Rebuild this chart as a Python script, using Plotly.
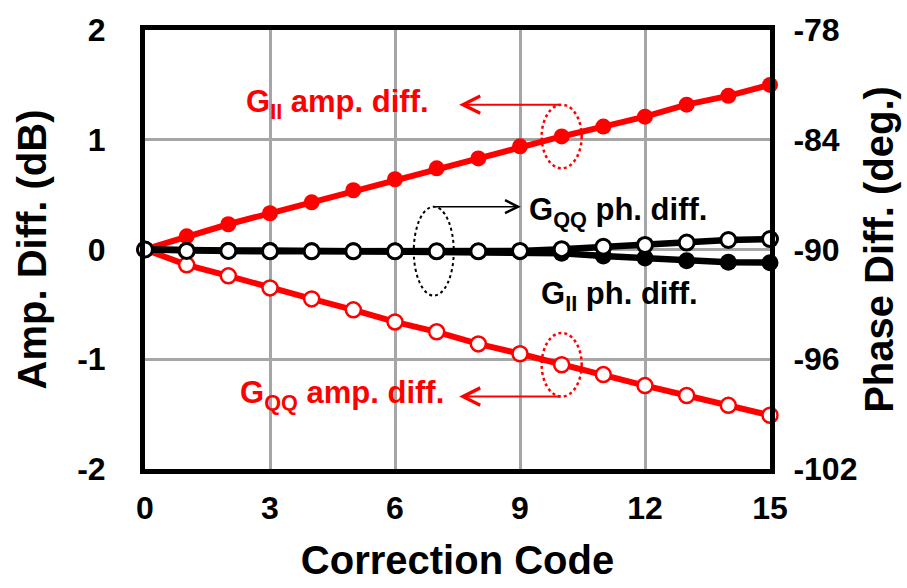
import plotly.graph_objects as go

codes = list(range(16))
gii_amp = [0, 0.12, 0.23, 0.33, 0.43, 0.54, 0.64, 0.74, 0.83, 0.94, 1.03, 1.12, 1.21, 1.32, 1.40, 1.50]
gqq_amp = [0, -0.14, -0.24, -0.35, -0.45, -0.55, -0.66, -0.75, -0.86, -0.95, -1.05, -1.14, -1.24, -1.33, -1.42, -1.51]
gii_ph = [-90.0, -90.05, -90.05, -90.05, -90.07, -90.07, -90.08, -90.1, -90.1, -90.12, -90.2, -90.36, -90.46, -90.62, -90.7, -90.72]
gqq_ph = [-90.0, -90.08, -90.08, -90.1, -90.1, -90.1, -90.1, -90.1, -90.1, -90.08, -89.98, -89.85, -89.75, -89.62, -89.48, -89.43]

x_ticks = [0, 3, 6, 9, 12, 15]
y_ticks = [-2, -1, 0, 1, 2]
y_labels = ["-2", "-1", "0", "1", "2"]
y2_ticks = [-102, -96, -90, -84, -78]
y2_labels = ["-102", "-96", "-90", "-84", "-78"]

FONT = "Liberation Sans"
RED = "#ff0000"

fig = go.Figure()
fig.add_trace(go.Scatter(x=codes, y=gii_amp, mode="lines+markers", cliponaxis=False,
                         line=dict(color=RED, width=6),
                         marker=dict(size=16, color=RED, line=dict(color=RED, width=0))))
fig.add_trace(go.Scatter(x=codes, y=gqq_amp, mode="lines+markers", cliponaxis=False,
                         line=dict(color=RED, width=6),
                         marker=dict(size=15, color="white", line=dict(color=RED, width=2.5))))
fig.add_trace(go.Scatter(x=codes, y=gii_ph, yaxis="y2", mode="lines+markers", cliponaxis=False,
                         line=dict(color="black", width=6.5),
                         marker=dict(size=17, color="black", line=dict(color="black", width=0))))
fig.add_trace(go.Scatter(x=codes, y=gqq_ph, yaxis="y2", mode="lines+markers", cliponaxis=False,
                         line=dict(color="black", width=6.5),
                         marker=dict(size=15, color="white", line=dict(color="black", width=3))))

# ellipses around marked points (data coordinates derived from the series)
ew, eh = 0.48, 0.29
i = 10
fig.add_shape(type="circle", xref="x", yref="y", x0=codes[i] - ew, x1=codes[i] + ew,
              y0=gii_amp[i] - eh, y1=gii_amp[i] + eh, line=dict(color=RED, width=2.5, dash="dot"))
fig.add_shape(type="circle", xref="x", yref="y", x0=codes[i] - ew, x1=codes[i] + ew,
              y0=gqq_amp[i] - eh, y1=gqq_amp[i] + eh, line=dict(color=RED, width=2.5, dash="dot"))
j = 7
fig.add_shape(type="circle", xref="x", yref="y", x0=codes[j] - 0.55, x1=codes[j] + 0.41,
              y0=-0.42, y1=0.39, line=dict(color="black", width=2, dash="dot"))

fig.add_annotation(x=7.54, y=gii_amp[i] + eh, ax=codes[i], ay=gii_amp[i] + eh, xref="x", yref="y",
                   axref="x", ayref="y", text="", showarrow=True, arrowhead=5, arrowsize=1.7,
                   arrowwidth=2, arrowcolor=RED)
fig.add_annotation(x=7.54, y=gqq_amp[i] - eh, ax=codes[i], ay=gqq_amp[i] - eh, xref="x", yref="y",
                   axref="x", ayref="y", text="", showarrow=True, arrowhead=5, arrowsize=1.7,
                   arrowwidth=2, arrowcolor=RED)
fig.add_annotation(x=9.02, y=0.39, ax=codes[j] - 0.07, ay=0.39, xref="x", yref="y",
                   axref="x", ayref="y", text="", showarrow=True, arrowhead=5, arrowsize=1.7,
                   arrowwidth=1.5, arrowcolor="black")

anno_red = dict(family=FONT, size=31, color=RED, weight="bold")
anno_blk = dict(family=FONT, size=31, color="black", weight="bold")
fig.add_annotation(x=6.87, y=1.33, xref="x", yref="y", xanchor="right", yanchor="middle",
                   text="G<sub>II</sub> amp. diff.", showarrow=False, font=anno_red)
fig.add_annotation(x=7.23, y=-1.33, xref="x", yref="y", xanchor="right", yanchor="middle",
                   text="G<sub>QQ</sub> amp. diff.", showarrow=False, font=anno_red)
fig.add_annotation(x=9.16, y=0.34, xref="x", yref="y", xanchor="left", yanchor="middle",
                   text="G<sub>QQ</sub> ph. diff.", showarrow=False, font=anno_blk)
fig.add_annotation(x=9.45, y=-0.42, xref="x", yref="y", xanchor="left", yanchor="middle",
                   text="G<sub>II</sub> ph. diff.", showarrow=False, font=anno_blk)

tick_font = dict(family=FONT, size=32, color="black", weight="bold")
title_font = dict(family=FONT, size=40, color="black", weight="bold")

fig.update_layout(
    width=907, height=588,
    margin=dict(l=145, r=136, t=26, b=116),
    plot_bgcolor="white", paper_bgcolor="white",
    showlegend=False,
    xaxis=dict(range=[0, 15], tickvals=x_ticks, showgrid=True, gridcolor="#a6a6a6", gridwidth=3,
               showline=True, linecolor="black", linewidth=5, mirror=True, zeroline=False,
               ticks="", tickfont=tick_font, ticklabelstandoff=7,
               title=dict(text="Correction Code", font=title_font, standoff=22)),
    yaxis=dict(range=[-2, 2], tickvals=y_ticks, ticktext=y_labels, showgrid=True,
               gridcolor="#a6a6a6", gridwidth=3,
               showline=True, linecolor="black", linewidth=5, mirror=True, zeroline=False,
               ticks="", tickfont=tick_font, ticklabelstandoff=28,
               title=dict(text="Amp. Diff. (dB)", font=title_font, standoff=20)),
    yaxis2=dict(range=[-102, -78], tickvals=y2_ticks, ticktext=y2_labels, overlaying="y",
                side="right", showgrid=False, showline=True, linecolor="black", linewidth=5,
                zeroline=False, ticks="", tickfont=tick_font, ticklabelstandoff=12,
                title=dict(text="Phase Diff. (deg.)", font=title_font, standoff=10)),
)

fig.write_html("out.html")
